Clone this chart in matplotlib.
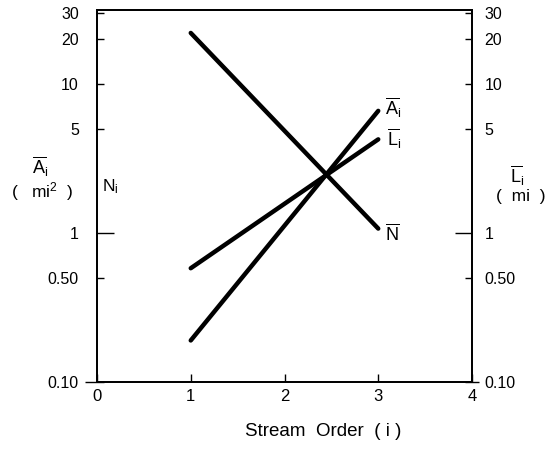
import matplotlib
matplotlib.use("Agg")
import matplotlib.pyplot as plt
from matplotlib.ticker import FixedLocator, NullFormatter

plt.rcParams['font.family'] = ['Liberation Sans', 'DejaVu Sans']
plt.rcParams['mathtext.fontset'] = 'custom'
plt.rcParams['mathtext.rm'] = 'Liberation Sans'
plt.rcParams['mathtext.it'] = 'Liberation Sans'

# ---- data (fitted lines) ----
order = [1, 3]
n_bar = [22.0, 1.07]      # N_i
a_bar = [0.19, 6.6]       # A_i (mi^2)
l_bar = [0.58, 4.25]      # L_i (mi)

y_ticks = [0.1, 0.5, 1, 5, 10, 20, 30]
y_labels = ['0.10', '0.50', '1', '5', '10', '20', '30']
x_ticks = [0, 1, 2, 3, 4]

fig = plt.figure(figsize=(5.54, 4.51), dpi=100)
ax = fig.add_axes([97 / 554, 1 - 382 / 451, 375 / 554, 372.5 / 451])

ax.plot(order, n_bar, color='black', lw=3.2, solid_capstyle='round')
ax.plot(order, a_bar, color='black', lw=3.2, solid_capstyle='round')
ax.plot(order, l_bar, color='black', lw=3.2, solid_capstyle='round')

ax.set_yscale('log')
ax.set_xlim(0, 4)
ax.set_ylim(0.1, 31.6)
ax.set_xticks(x_ticks)
ax.set_xticklabels([str(t) for t in x_ticks])
ax.set_yticks(y_ticks)
ax.set_yticklabels(y_labels)

for s in ax.spines.values():
    s.set_linewidth(1.3)

ax2 = ax.twinx()
ax2.set_yscale('log')
ax2.set_ylim(ax.get_ylim())
ax2.set_yticks(y_ticks)
ax2.set_yticklabels(y_labels)
for s in ax2.spines.values():
    s.set_linewidth(1.3)

# outward tick at the 0.10 corner, drawn as a lone minor tick
for a in (ax, ax2):
    a.yaxis.remove_overlapping_locs = False
    a.yaxis.set_minor_locator(FixedLocator([0.1]))
    a.yaxis.set_minor_formatter(NullFormatter())

ax.tick_params(axis='y', which='major', direction='in', length=5, width=1.0, pad=13, labelsize=11.5)
ax.tick_params(axis='y', which='minor', direction='out', length=9, width=1.0)
ax.tick_params(axis='x', direction='in', length=6, width=1.0, pad=5, labelsize=12)
ax2.tick_params(axis='y', which='major', direction='in', length=5, width=1.0, pad=9, labelsize=11.5)
ax2.tick_params(axis='y', which='minor', direction='out', length=5, width=1.0)

# longer tick at 1
for a in (ax, ax2):
    for t, v in zip(a.yaxis.get_major_ticks(), y_ticks):
        if v == 1:
            t.tick1line.set_markersize(12)
            t.tick2line.set_markersize(12)

# line labels
ax.text(3.07, 6.9, r'$\overline{\mathrm{A}}_{\mathrm{i}}$', fontsize=13, va='center', ha='left')
ax.text(3.09, 4.3, r'$\overline{\mathrm{L}}_{\mathrm{i}}$', fontsize=13, va='center', ha='left')
ax.text(3.07, 0.99, r'$\overline{\mathrm{N}}$', fontsize=13, va='center', ha='left')
ax.text(0.05, 2.05, r'$\mathrm{N}_{\mathrm{i}}$', fontsize=12.5, va='center', ha='left')

# axis titles
fig.text(40 / 554, 1 - 167 / 451, r'$\overline{\mathrm{A}}_{\mathrm{i}}$', fontsize=13, ha='center', va='center')
fig.text(42 / 554, 1 - 192 / 451, r'(   mi$^{2}$  )', fontsize=12.5, ha='center', va='center')
fig.text(517 / 554, 1 - 176 / 451, r'$\overline{\mathrm{L}}_{\mathrm{i}}$', fontsize=13, ha='center', va='center')
fig.text(521 / 554, 1 - 197 / 451, '(  mi  )', fontsize=12.5, ha='center', va='center')
fig.text(323 / 554, 1 - 432 / 451, 'Stream  Order  ( i )', fontsize=13.5, ha='center', va='center')

fig.savefig('out.png', dpi=100)
